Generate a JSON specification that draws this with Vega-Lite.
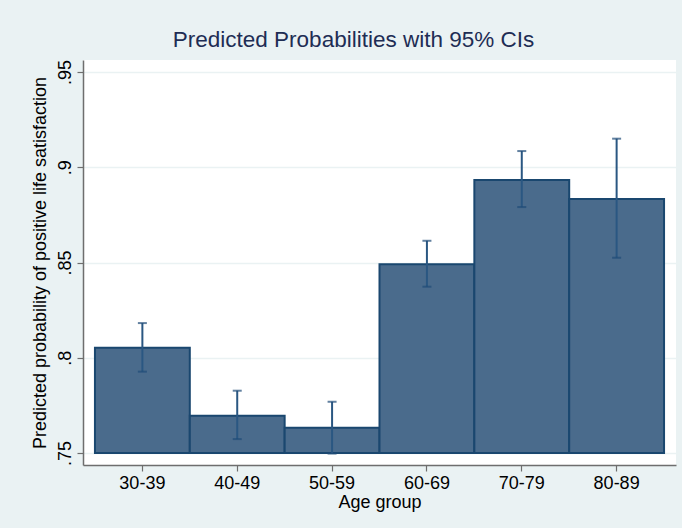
{
  "$schema": "https://vega.github.io/schema/vega-lite/v6.json",
  "autosize": {"type": "none"},
  "padding": {"left": 83, "top": 60, "right": 6, "bottom": 63},
  "width": 593,
  "height": 405,
  "background": "#EAF2F3",
  "title": {
    "text": "Predicted Probabilities with 95% CIs",
    "fontSize": 22.5,
    "fontWeight": "normal",
    "font": "Liberation Sans",
    "color": "#1E2D54",
    "anchor": "middle",
    "frame": "bounds",
    "offset": 8
  },
  "config": {
    "view": {"fill": "white", "stroke": null},
    "font": "Liberation Sans",
    "axis": {
      "labelFont": "Liberation Sans",
      "titleFont": "Liberation Sans",
      "labelFontSize": 18,
      "titleFontSize": 18,
      "labelColor": "black",
      "titleColor": "black",
      "titleFontWeight": "normal",
      "domainColor": "#6E6E6E",
      "tickColor": "#6E6E6E",
      "domainWidth": 1.5,
      "tickWidth": 1.2
    }
  },
  "data": {
    "values": [
      {"age": "30-39", "p": 0.8053, "lo": 0.7927, "hi": 0.8182},
      {"age": "40-49", "p": 0.7696, "lo": 0.7573, "hi": 0.7827},
      {"age": "50-59", "p": 0.7633, "lo": 0.7497, "hi": 0.7769},
      {"age": "60-69", "p": 0.8491, "lo": 0.8373, "hi": 0.8614},
      {"age": "70-79", "p": 0.8933, "lo": 0.8791, "hi": 0.9085},
      {"age": "80-89", "p": 0.8833, "lo": 0.8525, "hi": 0.9150}
    ]
  },
  "encoding": {
    "x": {
      "field": "age",
      "type": "nominal",
      "sort": null,
      "scale": {"paddingInner": 0, "paddingOuter": 0.126},
      "axis": {
        "title": "Age group",
        "labelAngle": 0,
        "tickSize": 6,
        "labelPadding": 3,
        "titlePadding": 1,
        "grid": false
      }
    }
  },
  "layer": [
    {
      "mark": {"type": "bar", "fill": "#4A6B8C", "stroke": "#1A476F", "strokeWidth": 2},
      "encoding": {
        "y": {
          "field": "p",
          "type": "quantitative",
          "scale": {"domain": [0.7437, 0.9563], "nice": false, "zero": false},
          "axis": {
            "title": "Predicted probability of positive life satisfaction",
            "values": [0.75, 0.8, 0.85, 0.9, 0.95],
            "labelExpr": "replace(format(datum.value, '.2~f'), '0.', '.')",
            "labelAngle": -90,
            "labelAlign": "center",
            "labelBaseline": "alphabetic",
            "tickSize": 6,
            "labelPadding": 7,
            "titlePadding": 7,
            "grid": true,
            "gridColor": "#EAF2F3",
            "gridWidth": 1.5
          }
        },
        "y2": {"datum": 0.75}
      }
    },
    {
      "mark": {"type": "rule", "color": "#2A5782", "strokeWidth": 2},
      "encoding": {
        "y": {"field": "lo", "type": "quantitative"},
        "y2": {"field": "hi"}
      }
    },
    {
      "mark": {"type": "tick", "color": "#1F4C78", "size": 9, "thickness": 2},
      "encoding": {"y": {"field": "lo", "type": "quantitative"}}
    },
    {
      "mark": {"type": "tick", "color": "#1F4C78", "size": 9, "thickness": 2},
      "encoding": {"y": {"field": "hi", "type": "quantitative"}}
    }
  ]
}
